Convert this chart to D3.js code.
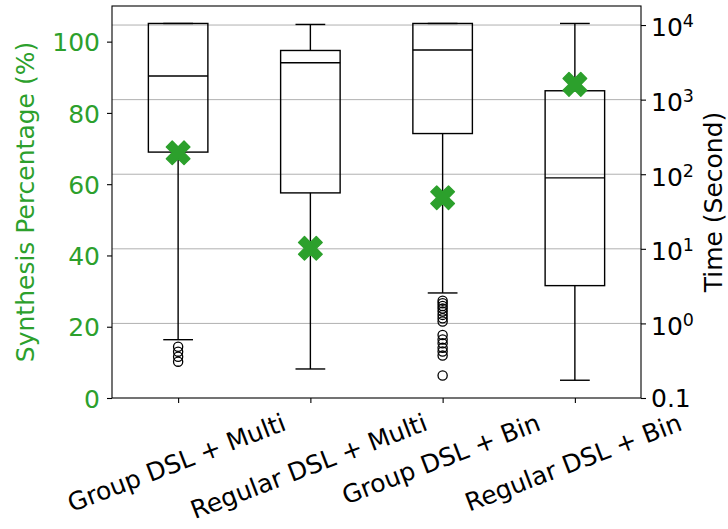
<!DOCTYPE html>
<html>
<head>
<meta charset="utf-8">
<script src="https://cdn.jsdelivr.net/npm/d3@7"></script>
<style>
  body { margin: 0; background: #fff; }
  text { font-family: "DejaVu Sans", sans-serif; }
</style>
</head>
<body>
<svg id="chart" width="728" height="529"></svg>
<script>
// Four configurations compared on synthesis rate and run time
const categories = ["Group DSL + Multi", "Regular DSL + Multi", "Group DSL + Bin", "Regular DSL + Bin"];

// Share of benchmarks synthesised (%), left axis
const synthesisPct = [68.8, 42.0, 56.2, 88.0];

// Run-time distribution (seconds), right log axis
const whiskerLow  = [0.605, 0.245, 2.56, 0.173];
const quartile1   = [198, 56.2, 351, 3.21];
const medians     = [2070, 3120, 4620, 89.4];
const quartile3   = [10500, 4560, 10500, 1315];
const whiskerHigh = [10500, 10190, 10500, 10500];
const outliers = [
  [0.487, 0.418, 0.358, 0.307],
  [],
  [2.02, 1.86, 1.71, 1.58, 1.44, 1.30, 1.17, 1.06, 0.70, 0.61, 0.54, 0.47, 0.42, 0.37, 0.20],
  []
];

const pctTicks = [0, 20, 40, 60, 80, 100];
const timeTicks = [0.1, 1, 10, 100, 1000, 10000];
const timeTickExponents = [null, 0, 1, 2, 3, 4];

const GREEN = "#2ca02c";
const FS = 25;

const svg = d3.select("#chart");
const margin = { left: 112, right: 641, top: 6, bottom: 398 };

const x = d3.scaleLinear().domain([0.5, 4.5]).range([margin.left, margin.right]);
const yPct = d3.scaleLinear().domain([0, 110]).range([margin.bottom, margin.top]);
const yTime = d3.scaleLog().domain([0.1, 18000]).range([margin.bottom, margin.top]);

const positions = categories.map((c, i) => i + 1);
const boxW = 0.45 * (x(2) - x(1));
const capW = boxW / 2;

// horizontal grid from the time axis
svg.append("g").selectAll("line").data(timeTicks.slice(1)).join("line")
  .attr("x1", margin.left).attr("x2", margin.right)
  .attr("y1", d => yTime(d)).attr("y2", d => yTime(d))
  .attr("stroke", "#b0b0b0").attr("stroke-width", 1);

// box plots
const boxes = svg.append("g").attr("fill", "none").attr("stroke", "#000").attr("stroke-width", 1.4);
positions.forEach((p, i) => {
  const cx = x(p);
  const g = boxes.append("g");
  g.append("rect")
    .attr("x", cx - boxW / 2).attr("width", boxW)
    .attr("y", yTime(quartile3[i])).attr("height", yTime(quartile1[i]) - yTime(quartile3[i]));
  g.append("line").attr("x1", cx - boxW / 2).attr("x2", cx + boxW / 2)
    .attr("y1", yTime(medians[i])).attr("y2", yTime(medians[i]));
  // whiskers
  g.append("line").attr("x1", cx).attr("x2", cx)
    .attr("y1", yTime(quartile1[i])).attr("y2", yTime(whiskerLow[i]));
  g.append("line").attr("x1", cx).attr("x2", cx)
    .attr("y1", yTime(quartile3[i])).attr("y2", yTime(whiskerHigh[i]));
  // caps
  [whiskerLow[i], whiskerHigh[i]].forEach(v => {
    g.append("line").attr("x1", cx - capW / 2).attr("x2", cx + capW / 2)
      .attr("y1", yTime(v)).attr("y2", yTime(v));
  });
  // fliers
  g.selectAll("circle").data(outliers[i]).join("circle")
    .attr("cx", cx).attr("cy", d => yTime(d)).attr("r", 4.6)
    .attr("stroke-width", 1.3);
});

// filled "X" marker
const xMarker = {
  draw(ctx, size) {
    const s = Math.sqrt(size);
    const c = Math.SQRT1_2;
    const pts = [[-1, -3], [1, -3], [1, -1], [3, -1], [3, 1], [1, 1], [1, 3], [-1, 3], [-1, 1], [-3, 1], [-3, -1], [-1, -1]]
      .map(([a, b]) => [(a * c - b * c) * s / 6, (a * c + b * c) * s / 6]);
    ctx.moveTo(pts[0][0], pts[0][1]);
    pts.slice(1).forEach(p => ctx.lineTo(p[0], p[1]));
    ctx.closePath();
  }
};
svg.append("g").selectAll("path").data(synthesisPct).join("path")
  .attr("transform", (d, i) => `translate(${x(positions[i])},${yPct(d)})`)
  .attr("d", d3.symbol().type(xMarker).size(25 * 25))
  .attr("fill", GREEN).attr("stroke", GREEN).attr("stroke-width", 1.4)
  .attr("stroke-linejoin", "round");

// frame
svg.append("rect")
  .attr("x", margin.left).attr("y", margin.top)
  .attr("width", margin.right - margin.left).attr("height", margin.bottom - margin.top)
  .attr("fill", "none").attr("stroke", "#000").attr("stroke-width", 1.1);

// left axis (percentage)
const leftAxis = svg.append("g")
  .attr("transform", `translate(${margin.left},0)`)
  .call(d3.axisLeft(yPct).tickValues(pctTicks).tickSize(5).tickPadding(6));
leftAxis.select(".domain").remove();
leftAxis.selectAll(".tick line").attr("stroke", "#000").attr("stroke-width", 1.1);
leftAxis.selectAll(".tick text")
  .attr("fill", GREEN).attr("font-size", FS).attr("font-family", "DejaVu Sans")
  .attr("x", -12).attr("dy", null).attr("y", 9.1);

// right axis (time, log)
const rightAxis = svg.append("g")
  .attr("transform", `translate(${margin.right},0)`)
  .call(d3.axisRight(yTime).tickValues(timeTicks).tickSize(5).tickFormat(""));
rightAxis.select(".domain").remove();
rightAxis.selectAll(".tick line").attr("stroke", "#000").attr("stroke-width", 1.1);
rightAxis.selectAll(".tick text").remove();
timeTicks.forEach((t, i) => {
  const e = timeTickExponents[i];
  const txt = svg.append("text")
    .attr("x", 651).attr("font-size", FS).attr("fill", "#000");
  if (e === null) {
    txt.attr("y", yTime(t) + 9.1).text(String(t));
  } else {
    txt.attr("y", yTime(t) + 11.4);
    txt.append("tspan").text("10");
    txt.append("tspan").attr("font-size", 17.5).attr("dy", -9).text(String(e));
  }
});

// bottom axis (categories)
const bottomAxis = svg.append("g")
  .attr("transform", `translate(0,${margin.bottom})`)
  .call(d3.axisBottom(x).tickValues(positions).tickSize(5).tickFormat(""));
bottomAxis.select(".domain").remove();
bottomAxis.selectAll(".tick line").attr("stroke", "#000").attr("stroke-width", 1.1);

const rot = 21;
const angle = rot * Math.PI / 180;
const labelTop = 408;
categories.forEach((c, i) => {
  const t = svg.append("text").attr("font-size", FS).attr("fill", "#000")
    .attr("text-anchor", "middle").text(c);
  const bb = t.node().getBBox();
  const H = bb.width * Math.sin(angle) + bb.height * Math.cos(angle);
  const cy = labelTop + H / 2;
  t.attr("y", -(bb.y + bb.height / 2))
   .attr("transform", `translate(${x(positions[i]) - 1.5},${cy}) rotate(${-rot})`);
});

// axis titles
svg.append("text")
  .attr("transform", `translate(34,${(margin.top + margin.bottom) / 2}) rotate(-90)`)
  .attr("text-anchor", "middle").attr("font-size", FS).attr("fill", GREEN)
  .text("Synthesis Percentage (%)");
svg.append("text")
  .attr("transform", `translate(722,${(margin.top + margin.bottom) / 2}) rotate(-90)`)
  .attr("text-anchor", "middle").attr("font-size", FS).attr("fill", "#000")
  .text("Time (Second)");
</script>
</body>
</html>
